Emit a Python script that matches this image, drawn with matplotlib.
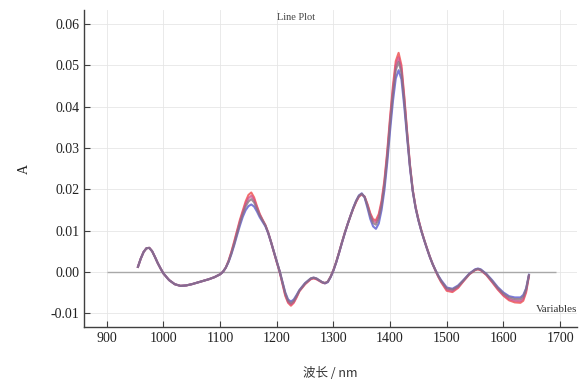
import matplotlib
matplotlib.use("Agg")
import matplotlib.pyplot as plt
from matplotlib.ticker import FormatStrFormatter

plt.rcParams['font.family'] = ['Liberation Serif', 'Noto Sans CJK SC', 'DejaVu Sans']
plt.rcParams['axes.unicode_minus'] = False

# wavelength grid (nm)
wavelength = [955, 960, 965, 970, 975, 980, 985, 990, 995, 1000,
              1010, 1020, 1030, 1040, 1050, 1060, 1070, 1080, 1090, 1100,
              1105, 1110, 1115, 1120, 1125, 1130, 1135, 1140, 1145, 1150,
              1155, 1160, 1165, 1170, 1175, 1180, 1185, 1190, 1195, 1200,
              1205, 1210, 1215, 1220, 1225, 1230, 1235, 1240, 1250, 1260,
              1265, 1270, 1280, 1285, 1290, 1295, 1300, 1305, 1310, 1315,
              1320, 1325, 1330, 1335, 1340, 1345, 1350, 1355, 1360, 1365,
              1370, 1375, 1380, 1385, 1390, 1395, 1400, 1405, 1410, 1415,
              1420, 1425, 1430, 1435, 1440, 1445, 1450, 1455, 1460, 1465,
              1470, 1475, 1480, 1485, 1490, 1500, 1510, 1520, 1530, 1540,
              1550, 1555, 1560, 1570, 1580, 1590, 1600, 1610, 1620, 1630,
              1635, 1640, 1645]

spec_blue = [0.0012, 0.0032, 0.0048, 0.0057, 0.0058, 0.0050, 0.0036, 0.0021, 0.0008, -0.0004,
             -0.0020, -0.0030, -0.0034, -0.0033, -0.0030, -0.0026, -0.0022, -0.0018, -0.0013, -0.0006,
             0.0000, 0.0010, 0.0024, 0.0043, 0.0065, 0.0089, 0.0112, 0.0133, 0.0149, 0.0159,
             0.0163, 0.0158, 0.0146, 0.0132, 0.0121, 0.0110, 0.0093, 0.0071, 0.0048, 0.0025,
             0.0002, -0.0024, -0.0050, -0.0067, -0.0072, -0.0067, -0.0056, -0.0044, -0.0027, -0.0016,
             -0.0014, -0.0016, -0.0025, -0.0028, -0.0025, -0.0013, 0.0003, 0.0023, 0.0046, 0.0070,
             0.0093, 0.0115, 0.0135, 0.0155, 0.0172, 0.0185, 0.0190, 0.0180, 0.0155, 0.0128,
             0.0110, 0.0104, 0.0117, 0.0150, 0.0198, 0.0265, 0.0342, 0.0413, 0.0468, 0.0488,
             0.0466, 0.0400, 0.0325, 0.0252, 0.0194, 0.0154, 0.0124, 0.0099, 0.0077, 0.0056,
             0.0036, 0.0019, 0.0004, -0.0009, -0.0020, -0.0038, -0.0041, -0.0033, -0.0019, -0.0004,
             0.0006, 0.0008, 0.0006, -0.0005, -0.0020, -0.0037, -0.0050, -0.0059, -0.0062, -0.0062,
             -0.0056, -0.0040, -0.0007]

spec_purple = [0.0012, 0.0032, 0.0048, 0.0057, 0.0058, 0.0050, 0.0036, 0.0021, 0.0008, -0.0004,
               -0.0020, -0.0030, -0.0034, -0.0033, -0.0030, -0.0026, -0.0022, -0.0018, -0.0013, -0.0006,
               0.0000, 0.0010, 0.0025, 0.0045, 0.0068, 0.0093, 0.0118, 0.0140, 0.0158, 0.0170,
               0.0176, 0.0168, 0.0152, 0.0136, 0.0124, 0.0112, 0.0094, 0.0072, 0.0048, 0.0025,
               0.0002, -0.0025, -0.0052, -0.0070, -0.0076, -0.0070, -0.0058, -0.0045, -0.0028, -0.0016,
               -0.0014, -0.0016, -0.0025, -0.0027, -0.0024, -0.0012, 0.0004, 0.0024, 0.0047, 0.0071,
               0.0094, 0.0115, 0.0135, 0.0154, 0.0171, 0.0184, 0.0189, 0.0181, 0.0160, 0.0135,
               0.0118, 0.0114, 0.0128, 0.0160, 0.0210, 0.0278, 0.0358, 0.0430, 0.0488, 0.0508,
               0.0482, 0.0412, 0.0332, 0.0256, 0.0196, 0.0155, 0.0125, 0.0100, 0.0078, 0.0057,
               0.0037, 0.0019, 0.0004, -0.0010, -0.0022, -0.0040, -0.0043, -0.0035, -0.0020, -0.0005,
               0.0005, 0.0007, 0.0005, -0.0006, -0.0022, -0.0039, -0.0053, -0.0062, -0.0066, -0.0066,
               -0.0060, -0.0042, -0.0008]

spec_magenta = [0.0012, 0.0032, 0.0048, 0.0057, 0.0058, 0.0050, 0.0036, 0.0021, 0.0008, -0.0004,
                -0.0020, -0.0030, -0.0034, -0.0033, -0.0030, -0.0026, -0.0022, -0.0018, -0.0013, -0.0006,
                0.0000, 0.0010, 0.0026, 0.0047, 0.0071, 0.0097, 0.0122, 0.0144, 0.0164, 0.0178,
                0.0184, 0.0174, 0.0156, 0.0138, 0.0125, 0.0112, 0.0094, 0.0072, 0.0048, 0.0024,
                0.0001, -0.0027, -0.0055, -0.0073, -0.0079, -0.0073, -0.0060, -0.0046, -0.0029, -0.0017,
                -0.0015, -0.0017, -0.0025, -0.0027, -0.0024, -0.0012, 0.0004, 0.0024, 0.0047, 0.0071,
                0.0094, 0.0115, 0.0135, 0.0154, 0.0170, 0.0183, 0.0188, 0.0182, 0.0162, 0.0139,
                0.0123, 0.0120, 0.0134, 0.0166, 0.0216, 0.0285, 0.0367, 0.0440, 0.0499, 0.0519,
                0.0491, 0.0419, 0.0336, 0.0258, 0.0197, 0.0156, 0.0126, 0.0100, 0.0078, 0.0057,
                0.0037, 0.0019, 0.0004, -0.0011, -0.0023, -0.0043, -0.0046, -0.0037, -0.0021, -0.0005,
                0.0005, 0.0007, 0.0004, -0.0007, -0.0024, -0.0041, -0.0056, -0.0066, -0.0070, -0.0071,
                -0.0065, -0.0046, -0.0009]

spec_red = [0.0012, 0.0032, 0.0048, 0.0057, 0.0058, 0.0050, 0.0036, 0.0021, 0.0008, -0.0004,
            -0.0020, -0.0030, -0.0034, -0.0033, -0.0030, -0.0026, -0.0022, -0.0018, -0.0013, -0.0006,
            0.0000, 0.0010, 0.0027, 0.0049, 0.0074, 0.0100, 0.0126, 0.0148, 0.0170, 0.0186,
            0.0192, 0.0180, 0.0159, 0.0140, 0.0126, 0.0113, 0.0094, 0.0071, 0.0047, 0.0023,
            0.0000, -0.0029, -0.0058, -0.0075, -0.0082, -0.0075, -0.0062, -0.0047, -0.0030, -0.0018,
            -0.0016, -0.0018, -0.0026, -0.0028, -0.0024, -0.0012, 0.0004, 0.0024, 0.0047, 0.0071,
            0.0094, 0.0115, 0.0135, 0.0153, 0.0169, 0.0182, 0.0187, 0.0182, 0.0164, 0.0142,
            0.0127, 0.0125, 0.0140, 0.0172, 0.0222, 0.0292, 0.0375, 0.0450, 0.0510, 0.0530,
            0.0500, 0.0425, 0.0340, 0.0260, 0.0198, 0.0157, 0.0127, 0.0101, 0.0078, 0.0057,
            0.0037, 0.0019, 0.0003, -0.0012, -0.0025, -0.0046, -0.0049, -0.0039, -0.0022, -0.0006,
            0.0004, 0.0006, 0.0004, -0.0008, -0.0025, -0.0043, -0.0058, -0.0069, -0.0074, -0.0075,
            -0.0070, -0.0050, -0.0010]

# drawn in this order: the greyish mid spectrum ends up on top
spectra = [spec_red, spec_magenta, spec_blue, spec_purple]
colors = ['#ee4a4a', '#d0508c', '#5a5ad0', '#8c7282']

x_ticks = [900, 1000, 1100, 1200, 1300, 1400, 1500, 1600, 1700]
y_ticks = [-0.01, 0.00, 0.01, 0.02, 0.03, 0.04, 0.05, 0.06]

fig = plt.figure(figsize=(5.8, 3.8), dpi=100)
ax = fig.add_axes([0.145, 0.139, 0.85, 0.835])

ax.grid(True, color='#e6e6e6', linestyle='-', linewidth=0.6)
ax.set_axisbelow(True)
ax.hlines(0, 900, 1692, color='#a8a8a8', linewidth=1.0, zorder=1)

for spec, c in zip(spectra, colors):
    ax.plot(wavelength, spec, color=c, linewidth=1.5, alpha=0.8, zorder=2)

ax.set_xlim(860, 1730)
ax.set_ylim(-0.0134, 0.0634)
ax.set_xticks(x_ticks)
ax.set_yticks(y_ticks)
ax.yaxis.set_major_formatter(FormatStrFormatter('%.2f'))

for side in ['top', 'right']:
    ax.spines[side].set_visible(False)
for side in ['left', 'bottom']:
    ax.spines[side].set_color('#404040')
    ax.spines[side].set_linewidth(1.0)
ax.tick_params(direction='in', length=4, width=0.8, colors='#404040',
               labelsize=10, labelcolor='#222222')

ax.set_ylabel('A', fontsize=10, labelpad=14, color='#222222')
ax.set_xlabel('波长 / nm', fontsize=9, labelpad=16, color='#333333',
              family=['Noto Sans CJK SC', 'DejaVu Sans'])

ax.text(0.43, 0.99, 'Line Plot', transform=ax.transAxes, ha='center', va='top',
        fontsize=7.5, color='#444444')
ax.text(1.0, 0.055, 'Variables', transform=ax.transAxes, ha='right', va='center',
        fontsize=8, color='#333333')

fig.savefig('out.png', dpi=100)
